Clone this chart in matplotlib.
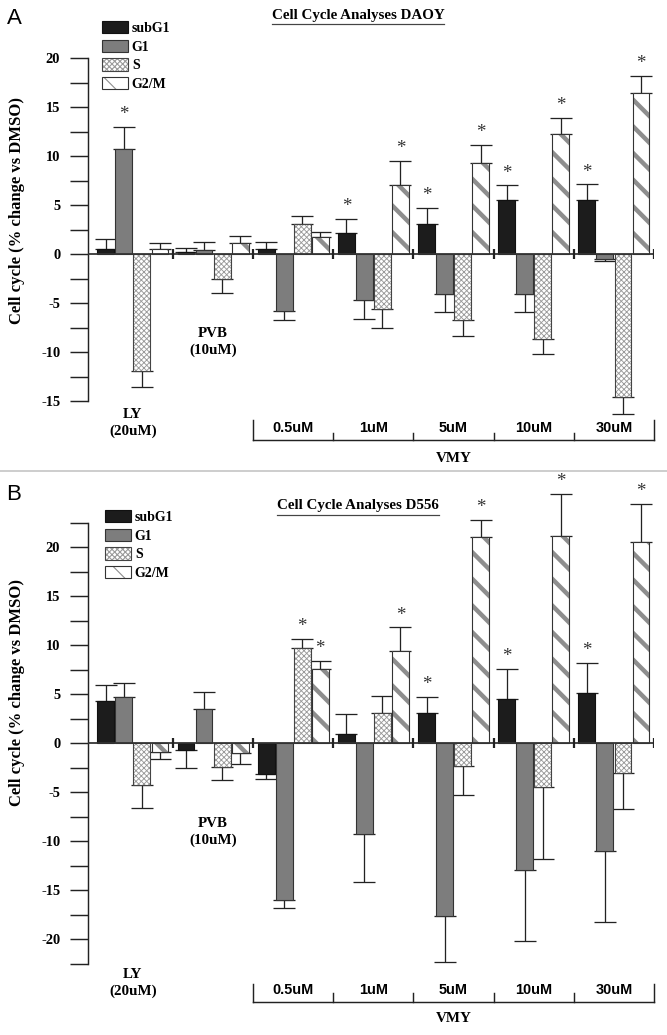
import numpy as np
import matplotlib
matplotlib.use("Agg")
import matplotlib.pyplot as plt
from matplotlib import transforms
from matplotlib.lines import Line2D
from matplotlib.legend_handler import HandlerTuple

# ---------------- data ----------------
groups = ["LY\n(20uM)", "PVB\n(10uM)", "0.5uM", "1uM", "5uM", "10uM", "30uM"]
doses = ["0.5uM", "1uM", "5uM", "10uM", "30uM"]
series = ["subG1", "G1", "S", "G2/M"]

# Panel A: DAOY
a_subG1 = [0.5, 0.2, 0.5, 2.1, 3.1, 5.5, 5.5]
a_subG1_err = [1.0, 0.4, 0.7, 1.5, 1.6, 1.5, 1.6]
a_G1 = [10.7, 0.4, -5.8, -4.7, -4.1, -4.1, -0.5]
a_G1_err = [2.3, 0.8, 0.9, 1.9, 1.8, 1.8, 0.25]
a_S = [-11.9, -2.6, 3.1, -5.65, -6.7, -8.7, -14.55]
a_S_err = [1.7, 1.4, 0.8, 1.85, 1.7, 1.5, 1.75]
a_G2M = [0.5, 1.1, 1.7, 7.0, 9.3, 12.2, 16.4]
a_G2M_err = [0.6, 0.7, 0.5, 2.5, 1.8, 1.7, 1.8]
a_star_subG1 = [0, 0, 0, 1, 1, 1, 1]
a_star_G1 = [1, 0, 0, 0, 0, 0, 0]
a_star_S = [0, 0, 0, 0, 0, 0, 0]
a_star_G2M = [0, 0, 0, 1, 1, 1, 1]

# Panel B: D556
b_subG1 = [4.3, -0.75, -3.2, 0.9, 3.1, 4.5, 5.1]
b_subG1_err = [1.6, 1.85, 0.5, 2.1, 1.6, 3.1, 3.1]
b_G1 = [4.7, 3.5, -16.0, -9.3, -17.7, -13.0, -11.0]
b_G1_err = [1.4, 1.7, 0.8, 4.9, 4.6, 7.2, 7.3]
b_S = [-4.3, -2.4, 9.7, 3.1, -2.3, -4.5, -3.1]
b_S_err = [2.3, 1.4, 0.9, 1.7, 3.0, 7.3, 3.6]
b_G2M = [-0.9, -1.0, 7.55, 9.4, 21.0, 21.1, 20.5]
b_G2M_err = [0.7, 1.1, 0.85, 2.4, 1.8, 4.3, 3.9]
b_star_subG1 = [0, 0, 0, 0, 1, 1, 1]
b_star_G1 = [0, 0, 0, 0, 0, 0, 0]
b_star_S = [0, 0, 1, 0, 0, 0, 0]
b_star_G2M = [0, 0, 1, 1, 1, 1, 1]

# ---------------- layout ----------------
W, H, DPI = 667, 1035, 80
fig = plt.figure(figsize=(W / DPI, H / DPI), dpi=DPI)
fig.patch.set_facecolor("white")

SERIF = ["Liberation Serif", "DejaVu Serif"]
SANS = ["Liberation Sans", "DejaVu Sans"]
PX = 9.8  # pixels per data unit


def fy(px):
    return 1 - px / H


def fx(px):
    return px / W


def make_axes(zero_px, ylo, yhi):
    top = zero_px - yhi * PX
    bot = zero_px - ylo * PX
    ax = fig.add_axes([fx(88), fy(bot), (654 - 88) / W, (bot - top) / H])
    ax.set_ylim(ylo, yhi)
    ax.set_xlim(-0.56, 6.5)
    return ax


styles = [
    dict(facecolor="#1c1c1c", edgecolor="#111111", hatch=None, hc=None, hlw=None),
    dict(facecolor="#7d7d7d", edgecolor="#333333", hatch=None, hc=None, hlw=None),
    dict(facecolor="white", edgecolor="#444444", hatch="xxxxx", hc="#9a9a9a", hlw=0.8),
    dict(facecolor="white", edgecolor="#333333", hatch="\\", hc="#8e8e8e", hlw=4.0),
]

BW = 0.21
SP = 0.225


def draw_panel(ax, zero_px, data, errs, stars, bounds, title, letter, letter_px,
               title_px, leg_px, ylab_px, lab_px, dose_px, bracket_px, vmy_px):
    x = np.arange(len(groups))
    handles = []
    for k, (vals, err, st, sty) in enumerate(zip(data, errs, stars, styles)):
        vals = np.asarray(vals, float)
        err = np.asarray(err, float)
        xs = x + (k - 1.5) * SP
        lower = np.where(vals < 0, err, 0)
        upper = np.where(vals >= 0, err, 0)
        ax.errorbar(xs, vals, yerr=[lower, upper], fmt="none", ecolor="#222222",
                    elinewidth=1.15, capsize=10, capthick=1.15, zorder=1)
        if sty["hatch"] is None:
            bars = ax.bar(xs, vals, width=BW, color=sty["facecolor"],
                          edgecolor=sty["edgecolor"], linewidth=1.0, zorder=2,
                          label=series[k])
            handles.append(bars)
        else:
            with plt.rc_context({"hatch.linewidth": sty["hlw"]}):
                hb = ax.bar(xs, vals, width=BW, color="white", edgecolor=sty["hc"],
                            hatch=sty["hatch"], linewidth=0, zorder=2)
            for p in hb:
                if hasattr(p, "set_hatch_linewidth"):
                    p.set_hatch_linewidth(sty["hlw"])
            ob = ax.bar(xs, vals, width=BW, fill=False, edgecolor=sty["edgecolor"],
                        linewidth=1.0, zorder=3)
            handles.append((hb, ob))
        for xi, v, e, s in zip(xs, vals, err, st):
            if s:
                yv = v + e if v >= 0 else v - e
                ax.annotate("*", (xi, yv), xytext=(0, 11), textcoords="offset points",
                            ha="center", va="center", fontsize=17, color="#333333",
                            family=SERIF)

    # zero line and group separators
    ax.axhline(0, color="#333333", lw=1.6, zorder=4)
    sep = np.arange(0.5, len(groups), 1.0)
    ax.vlines(sep, -0.55, 0.55, color="#222222", lw=2.0, zorder=4)

    # spines / ticks
    for s in ["top", "right", "bottom"]:
        ax.spines[s].set_visible(False)
    ax.spines["left"].set_bounds(*bounds)
    ax.spines["left"].set_linewidth(1.3)
    ax.spines["left"].set_color("#222222")
    ticks = np.arange(bounds[0], bounds[1] + 0.01, 2.5)
    ax.set_yticks(ticks)
    ax.set_yticklabels([("%d" % t) if abs(t % 5) < 1e-9 else "" for t in ticks],
                       family=SERIF, fontweight="bold", fontsize=13)
    ax.tick_params(axis="y", direction="out", length=16, width=1.3, pad=9,
                   color="#222222")
    ax.set_xticks([])

    # y label
    fig.text(fx(17), fy(ylab_px), "Cell cycle (% change vs DMSO)", rotation=90,
             ha="center", va="center", family=SERIF, fontweight="bold", fontsize=15)

    # category labels below
    bt = transforms.blended_transform_factory(ax.transData, fig.transFigure)
    ax.text(0, fy(lab_px[0]), groups[0], transform=bt, ha="center", va="center",
            family=SERIF, fontweight="bold", fontsize=13.5, linespacing=1.3)
    ax.text(1, fy(lab_px[1]), groups[1], transform=bt, ha="center", va="center",
            family=SERIF, fontweight="bold", fontsize=13.5, linespacing=1.3)
    for i, d in enumerate(doses):
        ax.text(2 + i, fy(dose_px), d, transform=bt, ha="center", va="center",
                family=SANS, fontweight="bold", fontsize=13)
    yb, ytall, yshort = bracket_px
    ax.plot([1.5, 6.5], [fy(yb), fy(yb)], transform=bt, color="#222222", lw=1.3,
            clip_on=False)
    for xb in np.arange(1.5, 6.6, 1.0):
        ytop = ytall if xb in (1.5, 6.5) else yshort
        ax.plot([xb, xb], [fy(yb), fy(ytop)], transform=bt, color="#222222", lw=1.3,
                clip_on=False)
    ax.text(4, fy(vmy_px), "VMY", transform=bt, ha="center", va="center",
            family=SERIF, fontweight="bold", fontsize=13.5)

    # title with underline
    t = fig.text(fx(358), fy(title_px), title, ha="center", va="center",
                 family=SERIF, fontweight="bold", fontsize=13.5)
    r = fig.canvas.get_renderer()
    bb = t.get_window_extent(renderer=r)
    fig.add_artist(Line2D([bb.x0 / W, bb.x1 / W], [(bb.y0 - 2) / H, (bb.y0 - 2) / H],
                          transform=fig.transFigure, color="#444444", lw=1.1))

    # panel letter
    fig.text(fx(letter_px[0]), fy(letter_px[1]), letter, ha="left", va="center",
             family=SANS, fontsize=20)

    # legend
    ax.legend(handles, series, loc="upper left",
              bbox_to_anchor=(fx(leg_px[0]), fy(leg_px[1])),
              bbox_transform=fig.transFigure, frameon=False, borderpad=0,
              borderaxespad=0, handlelength=1.85, handleheight=1.0,
              labelspacing=0.33, handletextpad=0.3,
              prop=dict(family=SERIF, weight="bold", size=12.5),
              handler_map={tuple: HandlerTuple(ndivide=1, pad=0)})
    return ax


axA = make_axes(254, -18, 23)
draw_panel(axA, 254,
           [a_subG1, a_G1, a_S, a_G2M],
           [a_subG1_err, a_G1_err, a_S_err, a_G2M_err],
           [a_star_subG1, a_star_G1, a_star_S, a_star_G2M],
           (-15, 20), "Cell Cycle Analyses DAOY", "A", (7, 18),
           15, (102, 21), 210, (423, 342), 428, (440, 420, 433), 458)

# separator between panels
fig.add_artist(Line2D([0, 1], [fy(471), fy(471)], transform=fig.transFigure,
                      color="#c9c9c9", lw=1.6))

axB = make_axes(743, -24, 27)
draw_panel(axB, 743,
           [b_subG1, b_G1, b_S, b_G2M],
           [b_subG1_err, b_G1_err, b_S_err, b_G2M_err],
           [b_star_subG1, b_star_G1, b_star_S, b_star_G2M],
           (-22.5, 22.5), "Cell Cycle Analyses D556", "B", (6, 494),
           506, (105, 510), 692, (983, 832), 990, (1002, 984, 993), 1019)

fig.savefig("out.png", dpi=DPI, facecolor="white")
